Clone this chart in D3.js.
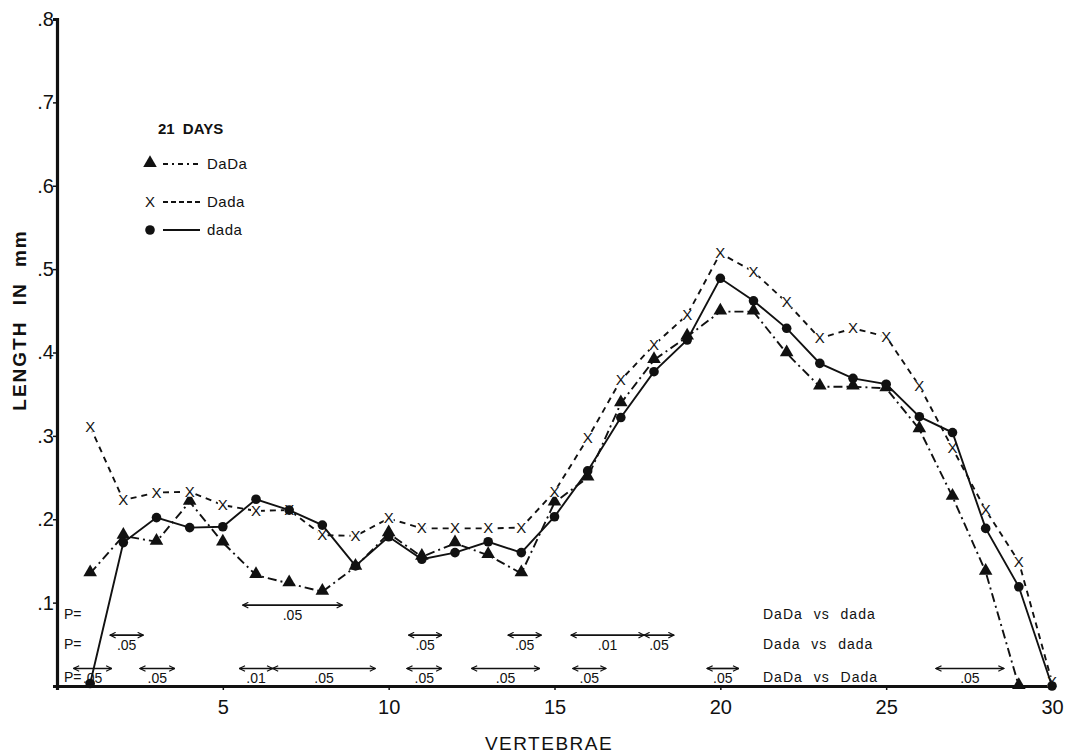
<!DOCTYPE html>
<html>
<head>
<meta charset="utf-8">
<script src="https://cdn.jsdelivr.net/npm/d3@7"></script>
<style>
  body { margin: 0; background: #fff; }
  text { font-family: "Liberation Sans", "DejaVu Sans", sans-serif; fill: #111; }
</style>
</head>
<body>
<script>
// vertebra numbers
var vertebrae = d3.range(1, 31);

// 21 days, length in mm
var DaDa = [0.135, 0.18, 0.173, 0.221, 0.172, 0.133, 0.123, 0.113, 0.143, 0.183,
            0.155, 0.171, 0.157, 0.135, 0.22, 0.25, 0.339, 0.391, 0.419, 0.449,
            0.449, 0.399, 0.359, 0.359, 0.357, 0.308, 0.227, 0.137, 0.0];
var Dada = [0.311, 0.223, 0.232, 0.233, 0.217, 0.21, 0.211, 0.181, 0.18, 0.201,
            0.189, 0.189, 0.189, 0.19, 0.233, 0.297, 0.367, 0.409, 0.445, 0.519,
            0.497, 0.46, 0.417, 0.429, 0.419, 0.36, 0.285, 0.211, 0.149, 0.005];
var dada = [0.003, 0.172, 0.202, 0.19, 0.191, 0.224, 0.211, 0.193, 0.144, 0.179,
            0.152, 0.16, 0.173, 0.16, 0.203, 0.258, 0.322, 0.377, 0.415, 0.489,
            0.462, 0.429, 0.387, 0.369, 0.362, 0.323, 0.304, 0.189, 0.119, 0.0];

var xTicks = [5, 10, 15, 20, 25, 30];
var yTicks = [0.1, 0.2, 0.3, 0.4, 0.5, 0.6, 0.7, 0.8];

// significance ranges: [from, to, P]
var sigDaDaVsdada = [[5.6, 8.6, ".05"]];
var sigDadaVsdada = [[1.6, 2.6, ".05"], [10.6, 11.6, ".05"], [13.6, 14.6, ".05"],
                     [15.5, 17.7, ".01"], [17.7, 18.6, ".05"]];
var sigDaDaVsDada = [[0.5, 1.65, ".05"], [2.5, 3.55, ".05"], [5.5, 6.5, ".01"],
                     [6.5, 9.6, ".05"], [10.55, 11.6, ".05"], [12.5, 14.55, ".05"],
                     [15.55, 16.55, ".05"], [19.6, 20.55, ".05"], [26.5, 28.55, ".05"]];
var sigRows = [
  { name: "DaDa vs dada", level: 0.097, ranges: sigDaDaVsdada },
  { name: "Dada vs dada", level: 0.061, ranges: sigDadaVsdada },
  { name: "DaDa vs Dada", level: 0.021, ranges: sigDaDaVsDada }
];

var W = 1071, H = 756;
var svg = d3.select("body").append("svg")
  .attr("width", W).attr("height", H);

var x = d3.scaleLinear().domain([0, 30]).range([57, 1052]);
var y = d3.scaleLinear().domain([0, 0.8]).range([686, 19]);

svg.append("defs").append("marker")
  .attr("id", "head").attr("viewBox", "0 0 10 10")
  .attr("refX", 9).attr("refY", 5)
  .attr("markerWidth", 7).attr("markerHeight", 7)
  .attr("markerUnits", "userSpaceOnUse")
  .attr("orient", "auto-start-reverse")
  .append("path").attr("d", "M1,1 L9,5 L1,9")
  .attr("fill", "none").attr("stroke", "#111").attr("stroke-width", 1.7);

// axes
var xAxis = svg.append("g").attr("transform", "translate(0," + y(0) + ")")
  .call(d3.axisBottom(x).tickValues(xTicks).tickSize(4).tickFormat(d3.format("d")));
var yAxis = svg.append("g").attr("transform", "translate(" + x(0) + ",0)")
  .call(d3.axisLeft(y).tickValues(yTicks).tickSize(4)
        .tickFormat(function (d) { return d3.format(".1f")(d).replace("0.", "."); }));
[xAxis, yAxis].forEach(function (g) {
  g.select(".domain").attr("stroke", "#111").attr("stroke-width", 3.2);
  g.selectAll(".tick line").attr("stroke", "#111").attr("stroke-width", 1.5);
  g.selectAll(".tick text").attr("font-size", 20).attr("fill", "#111")
    .style("font-family", "'Liberation Sans', sans-serif");
});
xAxis.selectAll(".tick text").attr("dy", "1.05em");
yAxis.selectAll(".tick text").attr("x", -3);

svg.append("text").attr("x", 549).attr("y", 750)
  .attr("text-anchor", "middle").attr("font-size", 19)
  .attr("letter-spacing", 1.5).text("VERTEBRAE");
svg.append("text")
  .attr("transform", "translate(26,320) rotate(-90)")
  .attr("text-anchor", "middle").attr("font-size", 19).attr("font-weight", "bold")
  .attr("letter-spacing", 2).attr("word-spacing", 8).text("LENGTH IN mm");

// series
var series = [
  { name: "DaDa", values: DaDa, dash: "9,4,2,4", mark: "tri" },
  { name: "Dada", values: Dada, dash: "6,5", mark: "x" },
  { name: "dada", values: dada, dash: null, mark: "dot" }
];

var line = d3.line()
  .x(function (d) { return x(d.v); })
  .y(function (d) { return y(d.val); });

function drawMark(g, kind, px, py) {
  if (kind === "tri") {
    g.append("path")
      .attr("d", d3.symbol().type(d3.symbolTriangle).size(80)())
      .attr("transform", "translate(" + px + "," + (py - 1) + ")")
      .attr("fill", "#111");
  } else if (kind === "dot") {
    g.append("circle").attr("cx", px).attr("cy", py).attr("r", 4.8).attr("fill", "#111");
  } else {
    g.append("text").attr("x", px).attr("y", py + 5)
      .attr("text-anchor", "middle").attr("font-size", 15).text("X");
  }
}

series.forEach(function (s) {
  var pts = s.values.map(function (val, i) { return { v: vertebrae[i], val: val }; });
  svg.append("path").datum(pts)
    .attr("d", line)
    .attr("fill", "none").attr("stroke", "#111").attr("stroke-width", 1.9)
    .attr("stroke-dasharray", s.dash);
  var g = svg.append("g");
  pts.forEach(function (p) {
    if (s.mark === "x") {
      g.append("rect").attr("x", x(p.v) - 5).attr("y", y(p.val) - 5)
        .attr("width", 10).attr("height", 10).attr("fill", "#fff");
    }
    drawMark(g, s.mark, x(p.v), y(p.val));
  });
});

// legend
svg.append("text").attr("x", 158).attr("y", 134).attr("font-size", 15)
  .attr("font-weight", "bold").attr("word-spacing", 4).text("21 DAYS");
series.forEach(function (s, i) {
  var ly = [164, 202, 230][i];
  drawMark(svg, s.mark, 150, ly);
  svg.append("line").attr("x1", 163).attr("x2", 200).attr("y1", ly).attr("y2", ly)
    .attr("stroke", "#111").attr("stroke-width", 1.8)
    .attr("stroke-dasharray", s.dash ? (i === 0 ? "5,4,2,4" : "5,3") : null);
  svg.append("text").attr("x", 207).attr("y", ly + 5).attr("font-size", 15)
    .attr("letter-spacing", 0.5).text(s.name);
});

// significance bars
sigRows.forEach(function (row) {
  var ay = y(row.level);
  svg.append("text").attr("x", 64).attr("y", ay + 14).attr("font-size", 14).text("P=");
  svg.append("text").attr("x", 763).attr("y", ay + 14).attr("font-size", 14)
    .attr("letter-spacing", 1).attr("word-spacing", 6).text(row.name);
  row.ranges.forEach(function (r) {
    svg.append("line")
      .attr("x1", x(r[0])).attr("x2", x(r[1])).attr("y1", ay).attr("y2", ay)
      .attr("stroke", "#111").attr("stroke-width", 1.7)
      .attr("marker-start", "url(#head)").attr("marker-end", "url(#head)");
    svg.append("text").attr("x", (x(r[0]) + x(r[1])) / 2).attr("y", ay + 15)
      .attr("text-anchor", "middle").attr("font-size", 14).text(r[2]);
  });
});
</script>
</body>
</html>
